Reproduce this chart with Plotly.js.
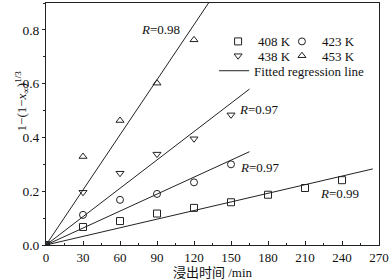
<!DOCTYPE html>
<html>
<head>
<meta charset="utf-8">
<script src="https://cdn.plot.ly/plotly-3.0.1.min.js"></script>
<style>html,body{margin:0;padding:0;background:#fff}#chart{width:390px;height:280px}</style>
</head>
<body>
<div id="chart"></div>
<script>
// Leaching time (min)
const time408 = [0, 30, 60, 90, 120, 150, 180, 210, 240];
const conv408 = [0, 0.067, 0.089, 0.117, 0.138, 0.159, 0.187, 0.212, 0.241];
const time423 = [0, 30, 60, 90, 120, 150];
const conv423 = [0, 0.112, 0.168, 0.190, 0.233, 0.300];
const time438 = [0, 30, 60, 90, 120, 150];
const conv438 = [0, 0.196, 0.267, 0.338, 0.395, 0.484];
const time453 = [0, 30, 60, 90, 120];
const conv453 = [0, 0.329, 0.463, 0.602, 0.763];
// Fitted regression line end points
const fit408X = [0, 265]; const fit408Y = [0, 0.283];
const fit423X = [0, 165]; const fit423Y = [0, 0.347];
const fit438X = [0, 165]; const fit438Y = [0, 0.580];
const fit453X = [0, 140]; const fit453Y = [0, 0.956];
// R labels
const rLabels = ['<i>R</i>=0.98', '<i>R</i>=0.97', '<i>R</i>=0.97', '<i>R</i>=0.99'];
const rX = [92.5, 172.6, 173.6, 238];
const rY = [0.80, 0.503, 0.289, 0.192];
const xTicks = [0, 30, 60, 90, 120, 150, 180, 210, 240, 270];
const yTicks = [0.0, 0.2, 0.4, 0.6, 0.8];

const FONT = 'Liberation Serif, Times New Roman, Noto Sans CJK SC, serif';
const mk = (sym) => ({symbol: sym, size: 7, color: '#222', line: {color: '#222', width: 1}});
const fitLine = {color: '#222', width: 1};

const traces = [
  {x: time408, y: conv408, mode: 'markers', name: '408 K', marker: mk('square-open'), legend: 'legend'},
  {x: time423, y: conv423, mode: 'markers', name: '423 K', marker: mk('circle-open'), legend: 'legend2'},
  {x: time438, y: conv438, mode: 'markers', name: '438 K', marker: mk('triangle-down-open'), legend: 'legend3'},
  {x: time453, y: conv453, mode: 'markers', name: '453 K', marker: mk('triangle-up-open'), legend: 'legend4'},
  {x: fit408X, y: fit408Y, mode: 'lines', name: 'Fitted regression line', line: fitLine, legend: 'legend5'},
  {x: fit423X, y: fit423Y, mode: 'lines', line: fitLine, showlegend: false},
  {x: fit438X, y: fit438Y, mode: 'lines', line: fitLine, showlegend: false},
  {x: fit453X, y: fit453Y, mode: 'lines', line: fitLine, showlegend: false}
];

const W = 333.8, H = 241.7, L = 45.5, T = 3.3;
const px = (x) => (x - L) / W;
const py = (y) => (T + H - y) / H;
const leg = (x, y) => ({x: px(x), y: py(y), xanchor: 'left', yanchor: 'middle', bgcolor: 'rgba(0,0,0,0)',
  borderwidth: 0, font: {family: FONT, size: 13, color: '#111'}, orientation: 'h', itemwidth: 30});

const annotations = rLabels.map((t, i) => ({x: rX[i], y: rY[i], xref: 'x', yref: 'y', text: t, showarrow: false,
  font: {family: FONT, size: 13, color: '#111'}}));
annotations.push({xref: 'paper', yref: 'paper', x: px(10), y: py(101), text: '1−(1−<i>x</i><sub>∞</sub>)<sup>1/3</sup>',
  textangle: -90, showarrow: false, font: {family: FONT, size: 13, color: '#111'}});

const layout = {
  width: 390, height: 280,
  margin: {l: 45.5, r: 10.7, t: 3.3, b: 35},
  paper_bgcolor: '#fff', plot_bgcolor: '#fff',
  font: {family: FONT, size: 13, color: '#111'},
  xaxis: {range: [0, 270], tickvals: xTicks, ticks: 'inside', ticklen: 4, tickcolor: '#222',
    minor: {dtick: 15, ticks: 'inside', ticklen: 2, tickcolor: '#222'},
    showline: true, linecolor: '#222', linewidth: 1, mirror: true, showgrid: false, zeroline: false,
    tickfont: {family: FONT, size: 13},
    title: {text: '浸出时间 /min', font: {family: FONT, size: 13}, standoff: 7}},
  yaxis: {range: [0, 0.9], tickvals: yTicks, tickformat: '.1f', ticks: 'outside', ticklen: 3, tickcolor: '#222',
    minor: {dtick: 0.1, ticks: 'outside', ticklen: 2, tickcolor: '#222'},
    showline: true, linecolor: '#222', linewidth: 1, mirror: true, showgrid: false, zeroline: false,
    tickfont: {family: FONT, size: 13.5}},
  showlegend: true,
  legend: leg(218, 41.7),
  legend2: leg(282, 41.7),
  legend3: leg(218, 56),
  legend4: leg(282, 56),
  legend5: leg(214, 71),
  annotations: annotations
};

Plotly.newPlot('chart', traces, layout, {staticPlot: true, displayModeBar: false});
</script>
</body>
</html>
